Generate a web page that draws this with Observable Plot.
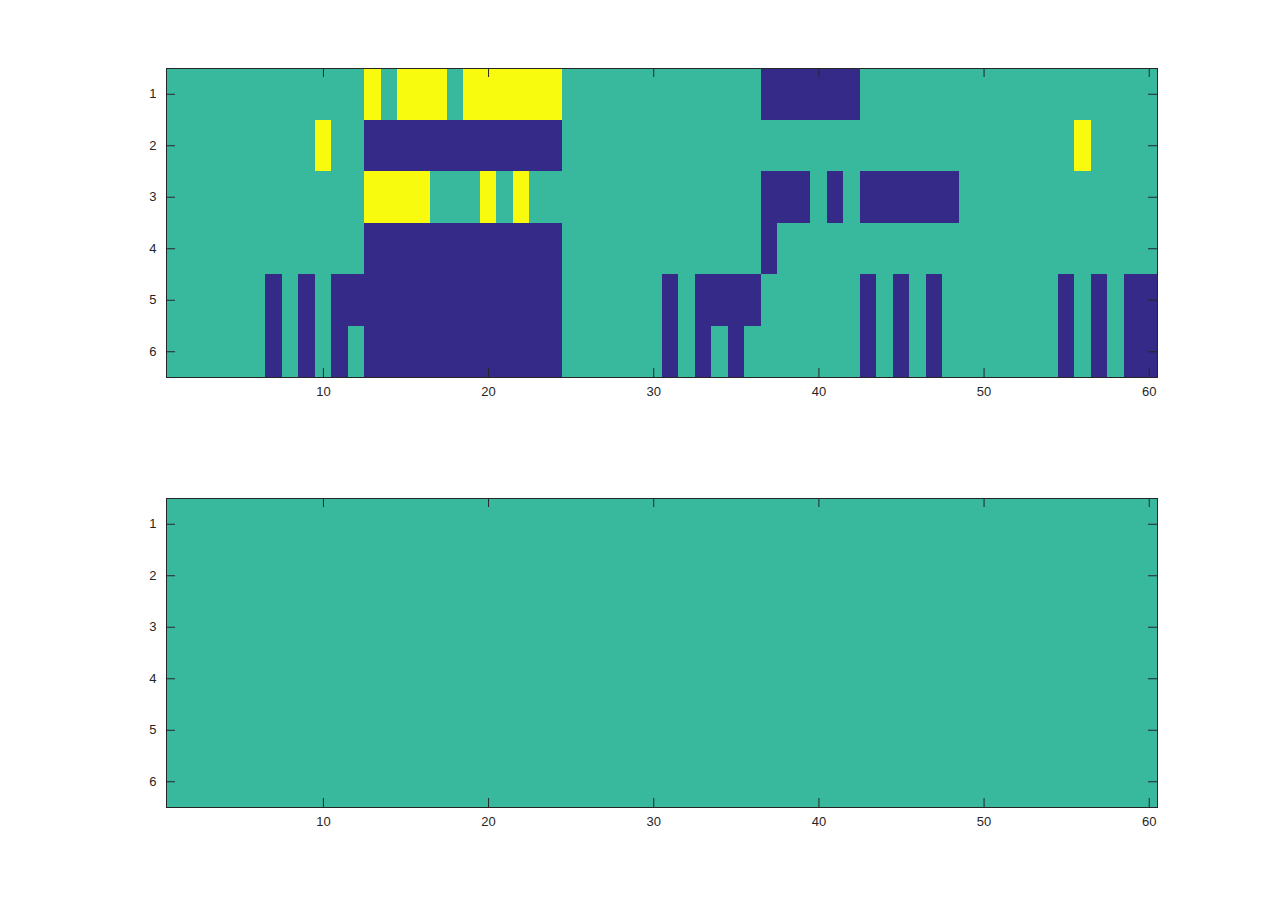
<!DOCTYPE html>
<html>
<head>
<meta charset="utf-8">
<script src="https://cdn.jsdelivr.net/npm/d3@7"></script>
<script src="https://cdn.jsdelivr.net/npm/@observablehq/plot@0.6"></script>
<style>
  html, body { margin: 0; padding: 0; background: #ffffff; }
  #chart { width: 1280px; height: 908px; position: relative; }
  #chart svg { display: block; }
</style>
</head>
<body>
<div id="chart"></div>
<script>
// ---- data: top panel (values -1, 0, 1), 6 rows x 60 columns ----
const topRow1 = [0,0,0,0,0,0,0,0,0,0, 0,0,1,0,1,1,1,0,1,1, 1,1,1,1,0,0,0,0,0,0, 0,0,0,0,0,0,-1,-1,-1,-1, -1,-1,0,0,0,0,0,0,0,0, 0,0,0,0,0,0,0,0,0,0];
const topRow2 = [0,0,0,0,0,0,0,0,0,1, 0,0,-1,-1,-1,-1,-1,-1,-1,-1, -1,-1,-1,-1,0,0,0,0,0,0, 0,0,0,0,0,0,0,0,0,0, 0,0,0,0,0,0,0,0,0,0, 0,0,0,0,0,1,0,0,0,0];
const topRow3 = [0,0,0,0,0,0,0,0,0,0, 0,0,1,1,1,1,0,0,0,1, 0,1,0,0,0,0,0,0,0,0, 0,0,0,0,0,0,-1,-1,-1,0, -1,0,-1,-1,-1,-1,-1,-1,0,0, 0,0,0,0,0,0,0,0,0,0];
const topRow4 = [0,0,0,0,0,0,0,0,0,0, 0,0,-1,-1,-1,-1,-1,-1,-1,-1, -1,-1,-1,-1,0,0,0,0,0,0, 0,0,0,0,0,0,-1,0,0,0, 0,0,0,0,0,0,0,0,0,0, 0,0,0,0,0,0,0,0,0,0];
const topRow5 = [0,0,0,0,0,0,-1,0,-1,0, -1,-1,-1,-1,-1,-1,-1,-1,-1,-1, -1,-1,-1,-1,0,0,0,0,0,0, -1,0,-1,-1,-1,-1,0,0,0,0, 0,0,-1,0,-1,0,-1,0,0,0, 0,0,0,0,-1,0,-1,0,-1,-1];
const topRow6 = [0,0,0,0,0,0,-1,0,-1,0, -1,0,-1,-1,-1,-1,-1,-1,-1,-1, -1,-1,-1,-1,0,0,0,0,0,0, -1,0,-1,0,-1,0,0,0,0,0, 0,0,-1,0,-1,0,-1,0,0,0, 0,0,0,0,-1,0,-1,0,-1,-1];

// ---- data: bottom panel (all zero) ----
const botRow1 = [0,0,0,0,0,0,0,0,0,0, 0,0,0,0,0,0,0,0,0,0, 0,0,0,0,0,0,0,0,0,0, 0,0,0,0,0,0,0,0,0,0, 0,0,0,0,0,0,0,0,0,0, 0,0,0,0,0,0,0,0,0,0];
const botRow2 = [0,0,0,0,0,0,0,0,0,0, 0,0,0,0,0,0,0,0,0,0, 0,0,0,0,0,0,0,0,0,0, 0,0,0,0,0,0,0,0,0,0, 0,0,0,0,0,0,0,0,0,0, 0,0,0,0,0,0,0,0,0,0];
const botRow3 = [0,0,0,0,0,0,0,0,0,0, 0,0,0,0,0,0,0,0,0,0, 0,0,0,0,0,0,0,0,0,0, 0,0,0,0,0,0,0,0,0,0, 0,0,0,0,0,0,0,0,0,0, 0,0,0,0,0,0,0,0,0,0];
const botRow4 = [0,0,0,0,0,0,0,0,0,0, 0,0,0,0,0,0,0,0,0,0, 0,0,0,0,0,0,0,0,0,0, 0,0,0,0,0,0,0,0,0,0, 0,0,0,0,0,0,0,0,0,0, 0,0,0,0,0,0,0,0,0,0];
const botRow5 = [0,0,0,0,0,0,0,0,0,0, 0,0,0,0,0,0,0,0,0,0, 0,0,0,0,0,0,0,0,0,0, 0,0,0,0,0,0,0,0,0,0, 0,0,0,0,0,0,0,0,0,0, 0,0,0,0,0,0,0,0,0,0];
const botRow6 = [0,0,0,0,0,0,0,0,0,0, 0,0,0,0,0,0,0,0,0,0, 0,0,0,0,0,0,0,0,0,0, 0,0,0,0,0,0,0,0,0,0, 0,0,0,0,0,0,0,0,0,0, 0,0,0,0,0,0,0,0,0,0];

const xTicks = [10, 20, 30, 40, 50, 60];
const yTicks = [1, 2, 3, 4, 5, 6];
const colorValues = [-1, 0, 1];

// ---- build cell tables ----
function toCells(rows) {
  const cells = [];
  rows.forEach((row, ri) => {
    row.forEach((v, ci) => cells.push({col: ci + 1, row: ri + 1, value: v}));
  });
  return cells;
}
const topCells = toCells([topRow1, topRow2, topRow3, topRow4, topRow5, topRow6]);
const botCells = toCells([botRow1, botRow2, botRow3, botRow4, botRow5, botRow6]);

const INK = "#262626";
const PANEL_W = 991, PANEL_H = 309, TICK = 9;

function panel(cells, marginTop, marginBottom) {
  return Plot.plot({
    width: 1280,
    height: marginTop + PANEL_H + marginBottom,
    marginLeft: 166,
    marginRight: 123,
    marginTop,
    marginBottom,
    style: {fontFamily: "'Liberation Sans', Arial, sans-serif", fontSize: "13px", color: INK, background: "white"},
    x: {domain: [0.5, 60.5]},
    y: {domain: [0.5, 6.5], reverse: true},
    color: {type: "ordinal", domain: colorValues, range: ["#352A87", "#38B99E", "#F9FB0E"]},
    marks: [
      Plot.rect(cells, {
        x1: d => d.col - 0.5, x2: d => d.col + 0.5,
        y1: d => d.row - 0.5, y2: d => d.row + 0.5,
        fill: "value", shapeRendering: "crispEdges"
      }),
      // inward ticks on all four sides
      Plot.ruleX(xTicks, {x: d => d, stroke: INK, insetTop: PANEL_H - TICK}),
      Plot.ruleX(xTicks, {x: d => d, stroke: INK, insetBottom: PANEL_H - TICK}),
      Plot.ruleY(yTicks, {y: d => d, stroke: INK, insetRight: PANEL_W - TICK}),
      Plot.ruleY(yTicks, {y: d => d, stroke: INK, insetLeft: PANEL_W - TICK}),
      Plot.axisX({ticks: xTicks, tickSize: 0, tickPadding: 9, label: null, fill: INK, tickFormat: d => String(d)}),
      Plot.axisY({ticks: yTicks, tickSize: 0, tickPadding: 10, label: null, fill: INK, tickFormat: d => String(d)}),
      Plot.frame({stroke: INK, strokeWidth: 1})
    ]
  });
}

const chart = document.getElementById("chart");
chart.appendChild(panel(topCells, 68, 77));
chart.appendChild(panel(botCells, 44, 101));
</script>
</body>
</html>
